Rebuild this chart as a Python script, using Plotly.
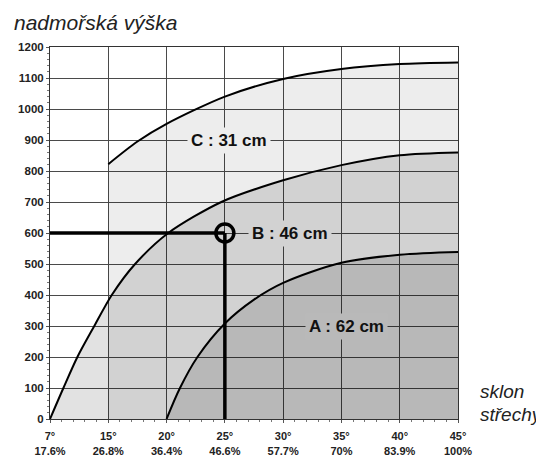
import plotly.graph_objects as go

# ---- data ----
deg_labels = ["7°", "15°", "20°", "25°", "30°", "35°", "40°", "45°"]
pct_labels = ["17.6%", "26.8%", "36.4%", "46.6%", "57.7%", "70%", "83.9%", "100%"]
slope_pos = list(range(len(deg_labels)))
alt_ticks = list(range(0, 1201, 100))

# curve C : 31 cm
c_x = [1, 1.5, 2, 3, 4, 5, 6, 7]
c_y = [822, 895, 952, 1040, 1097, 1129, 1145, 1150]
# curve B : 46 cm
b_x = [0, 0.23, 0.47, 0.76, 1.06, 1.46, 2.03, 2.94, 4, 5, 6, 7]
b_y = [0, 100, 200, 300, 400, 500, 600, 700, 770, 819, 851, 860]
# curve A : 62 cm
a_x = [2, 2.23, 2.53, 3, 3.5, 4, 5, 6, 7]
a_y = [0, 100, 200, 308, 385, 439, 504, 530, 539]

# example reading
ex_pos = 3      # 25°
ex_alt = 600

labels = [
    ("C : 31 cm", 3.07, 900, "center", "#ededed"),
    ("B : 46 cm", 3.40, 600, "left", "#d2d2d2"),
    ("A : 62 cm", 5.08, 300, "center", "#b9b9b9"),
]

fig = go.Figure()

fig.add_trace(go.Scatter(x=c_x, y=c_y, mode="lines", fill="tozeroy",
                         fillcolor="rgba(0,0,0,0.07)",
                         line=dict(color="black", width=2, shape="spline", smoothing=0.8),
                         hoverinfo="skip", showlegend=False))
fig.add_trace(go.Scatter(x=b_x, y=b_y, mode="lines", fill="tozeroy",
                         fillcolor="rgba(0,0,0,0.115)",
                         line=dict(color="black", width=2, shape="spline", smoothing=0.8),
                         hoverinfo="skip", showlegend=False))
fig.add_trace(go.Scatter(x=a_x, y=a_y, mode="lines", fill="tozeroy",
                         fillcolor="rgba(0,0,0,0.12)",
                         line=dict(color="black", width=2, shape="spline", smoothing=0.9),
                         hoverinfo="skip", showlegend=False))

# reading lines
fig.add_trace(go.Scatter(x=[slope_pos[0], ex_pos], y=[ex_alt, ex_alt], mode="lines",
                         line=dict(color="black", width=3.5), hoverinfo="skip", showlegend=False))
fig.add_trace(go.Scatter(x=[ex_pos, ex_pos], y=[0, ex_alt], mode="lines",
                         line=dict(color="black", width=3.5), hoverinfo="skip", showlegend=False))
fig.add_trace(go.Scatter(x=[ex_pos], y=[ex_alt], mode="markers",
                         marker=dict(symbol="circle-open", size=18, color="black",
                                     line=dict(width=3.5, color="black")),
                         hoverinfo="skip", showlegend=False))

for txt, lx, ly, anc, bg in labels:
    fig.add_annotation(x=lx, y=ly, text=txt, showarrow=False, xanchor=anc,
                       yanchor="middle", bgcolor=bg, borderpad=3,
                       font=dict(family="Liberation Sans, Arial", size=17,
                                 color="#111", weight="bold"))

fig.add_annotation(xref="paper", yref="paper", x=-38 / 408, y=1 + 25 / 372,
                   xanchor="left", yanchor="middle", text="<i>nadmořská výška</i>",
                   showarrow=False,
                   font=dict(family="Liberation Sans, Arial", size=21, color="#222"))
fig.add_annotation(xref="paper", yref="paper", x=1 + 20 / 408, y=(419 - 391) / 372,
                   xanchor="left", yanchor="middle", text="<i>sklon</i>",
                   showarrow=False,
                   font=dict(family="Liberation Sans, Arial", size=19, color="#222"))
fig.add_annotation(xref="paper", yref="paper", x=1 + 20 / 408, y=(419 - 414) / 372,
                   xanchor="left", yanchor="middle", text="<i>střechy</i>",
                   showarrow=False,
                   font=dict(family="Liberation Sans, Arial", size=19, color="#222"))

fig.update_xaxes(range=[0, 7], tickmode="array", tickvals=slope_pos,
                 ticktext=[f"{d}<br>{p}" for d, p in zip(deg_labels, pct_labels)],
                 showgrid=True, gridcolor="#4a4a4a", gridwidth=1,
                 showline=True, linecolor="#333", linewidth=1, mirror=True,
                 zeroline=False, ticks="outside", ticklen=3, tickcolor="#555",
                 minor=dict(dtick=0.2, ticks="outside", ticklen=2, tickcolor="#777", showgrid=False),
                 tickfont=dict(family="Liberation Sans, Arial", size=11, color="#222", weight="bold"),
                 ticklabelstandoff=4,
                 automargin=False, fixedrange=True)
fig.update_yaxes(range=[0, 1200], tickmode="array", tickvals=alt_ticks,
                 showgrid=True, gridcolor="#4a4a4a", gridwidth=1,
                 showline=True, linecolor="#333", linewidth=1, mirror=True,
                 zeroline=False, ticks="outside", ticklen=3, tickcolor="#555",
                 minor=dict(dtick=20, ticks="outside", ticklen=2, tickcolor="#777", showgrid=False),
                 tickfont=dict(family="Liberation Sans, Arial", size=11.5, color="#222", weight="bold"),
                 automargin=False, fixedrange=True)

# the page body adds an 8px margin, so the figure is 8px smaller each way
fig.update_layout(width=536, height=448,
                  margin=dict(l=42, r=86, t=39, b=37, autoexpand=False),
                  paper_bgcolor="white", plot_bgcolor="white",
                  showlegend=False)

fig.write_html("out.html")
